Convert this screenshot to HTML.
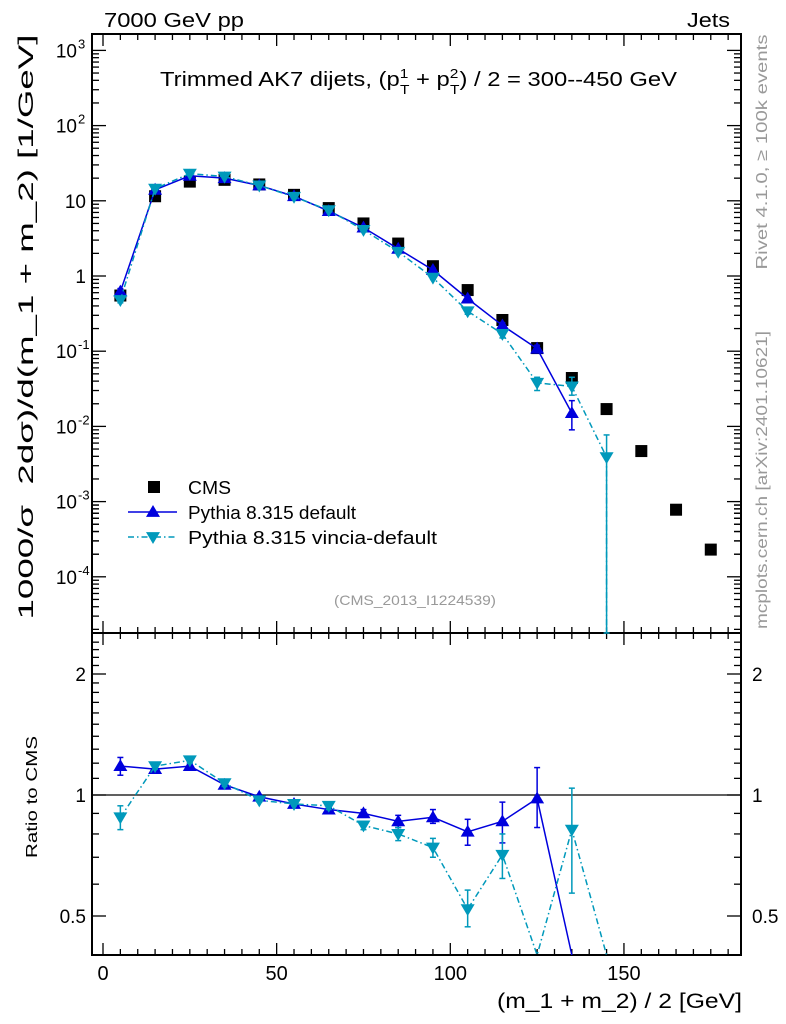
<!DOCTYPE html>
<html><head><meta charset="utf-8"><style>
body{margin:0;background:#fff}
svg{display:block;font-family:"Liberation Sans",sans-serif}
</style></head><body>
<svg id="c" width="786" height="1024" viewBox="0 0 786 1024">
<g id="g"></g>
</svg>
<script>
const categories=[5,15,25,35,45,55,65,75,85,95,105,115,125,135,145,155,165,175];
const cmsValues=[0.55,11.5,18,19,16.5,12,8,5,2.7,1.35,0.65,0.26,0.11,0.044,0.017,0.0047,0.00078,0.00023];
const defValues=[0.62,14,21.5,20,16,11.5,7.3,4.4,2.3,1.2,0.5,0.22,0.108,0.015];
const defErrLo=[0.56,13.5,21,19.5,15.6,11.2,7.1,4.25,2.2,1.13,0.46,0.2,0.095,0.009];
const defErrHi=[0.68,14.5,22,20.5,16.4,11.8,7.5,4.55,2.4,1.27,0.54,0.24,0.12,0.022];
const vinValues=[0.48,14.5,23,21,16,11.3,7.5,4.1,2.1,0.95,0.34,0.17,0.038,0.034,0.0039];
const vinErrLo=[0.44,14,22.5,20.5,15.6,11,7.3,3.95,2.0,0.9,0.31,0.15,0.03,0.026,0.00001];
const vinErrHi=[0.52,15,23.5,21.5,16.4,11.6,7.7,4.25,2.2,1.0,0.37,0.19,0.045,0.045,0.0077];
const defRatio=[1.18,1.16,1.18,1.06,0.99,0.95,0.92,0.90,0.86,0.88,0.81,0.86,0.98,0.34];
const defRatioLo=[1.12,1.14,1.16,1.04,0.98,0.94,0.91,0.88,0.83,0.85,0.75,0.76,0.83,0.34];
const defRatioHi=[1.24,1.18,1.2,1.08,1.0,0.96,0.93,0.92,0.89,0.92,0.87,0.96,1.17,0.34];
const vinRatio=[0.88,1.18,1.22,1.07,0.97,0.95,0.94,0.84,0.80,0.74,0.52,0.71,0.34,0.82,0.23];
const vinRatioLo=[0.82,1.16,1.2,1.05,0.96,0.94,0.92,0.82,0.77,0.70,0.47,0.62,0.34,0.57,0.23];
const vinRatioHi=[0.94,1.2,1.24,1.09,0.98,0.96,0.96,0.86,0.83,0.78,0.58,0.80,0.34,1.04,0.23];
const xTicks=[0,50,100,150];
const yTicks=[-4,-3,-2,-1,0,1,2,3];
const rTicks=[0.5,1,2];

const NS='http://www.w3.org/2000/svg';
const g=document.getElementById('g');
const L=92,R=741,T=34,MB=633,RB=955;
const X=v=>103+(v)*3.473;
const Y=v=>276-Math.log10(v)*75.2;
const YR=v=>795-Math.log2(v)*121;
const clampM=y=>Math.min(MB,Math.max(T,y));
const clampR=y=>Math.min(RB,Math.max(MB,y));
function el(t,a,p){const e=document.createElementNS(NS,t);for(const k in a)e.setAttribute(k,a[k]);(p||g).appendChild(e);return e;}
function txt(x,y,s,a,p){const e=el('text',Object.assign({x:x,y:y},a||{}),p);e.textContent=s;if(e.getAttribute('textLength'))e.setAttribute('lengthAdjust','spacingAndGlyphs');return e;}

let f=el('rect',{x:L,y:T,width:R-L,height:MB-T,fill:'none',stroke:'#000','stroke-width':2});

f=el('rect',{x:L,y:MB,width:R-L,height:RB-MB,fill:'none',stroke:'#000','stroke-width':2});


for(let v=0;v<=180;v+=5){const x=X(v);const maj=v%50===0;const l=maj?12:6;
 [[T,1],[MB,-1],[MB,1],[RB,-1]].forEach(([y0,d])=>el('line',{x1:x,x2:x,y1:y0,y2:y0+d*l,stroke:'#000','stroke-width':1.3}));}
xTicks.forEach(v=>{const t=txt(X(v),980,String(v),{'font-size':20,'text-anchor':'middle'});
 });
yTicks.forEach(p=>{for(let m=1;m<10;m++){const y=Y(m*Math.pow(10,p));if(y<T||y>MB)continue;const l=m===1?14:7;
 el('line',{x1:L,x2:L+l,y1:y,y2:y,stroke:'#000','stroke-width':1.3});el('line',{x1:R,x2:R-l,y1:y,y2:y,stroke:'#000','stroke-width':1.3});}
 const y=Y(Math.pow(10,p));let t;
 if(p===0){t=txt(86,y+7,'1',{'font-size':19,'text-anchor':'end'});}
 else if(p===1){t=txt(86,y+7,'10',{'font-size':19,'text-anchor':'end'});}
 else{t=txt(77,y+7,'10',{'font-size':19,'text-anchor':'end'});txt(78,y-2,String(p),{'font-size':13});}
 });
for(let p=-5;p<=-4;p++){for(let m=2;m<10;m++){const y=Y(m*Math.pow(10,p));if(y<T||y>MB)continue;
 el('line',{x1:L,x2:L+7,y1:y,y2:y,stroke:'#000','stroke-width':1.3});el('line',{x1:R,x2:R-7,y1:y,y2:y,stroke:'#000','stroke-width':1.3});}}
for(let v=0.4;v<=2.5;v+=0.1){const y=YR(v);if(y<MB||y>RB)continue;const maj=[0.5,1,2].some(q=>Math.abs(q-v)<1e-6);const l=maj?14:7;
 el('line',{x1:L,x2:L+l,y1:y,y2:y,stroke:'#000','stroke-width':1.3});el('line',{x1:R,x2:R-l,y1:y,y2:y,stroke:'#000','stroke-width':1.3});}
rTicks.forEach(v=>{const y=YR(v);
 let t=txt(86,y+7,String(v),{'font-size':19,'text-anchor':'end'});
 t=txt(752,y+7,String(v),{'font-size':19});});
el('line',{x1:L,x2:R,y1:YR(1),y2:YR(1),stroke:'#000','stroke-width':1.3});

function tri(x,y,c,up,p){const s=7;const pts=up?`${x},${y-s} ${x-s},${y+s*0.7} ${x+s},${y+s*0.7}`:`${x},${y+s} ${x-s},${y-s*0.7} ${x+s},${y-s*0.7}`;
 return el('polygon',{points:pts,fill:c},p);}
function series(vals,lo,hi,Yf,clamp,c,dash,up,name){
 const pts=vals.map((v,i)=>`${X(categories[i])},${clamp(Yf(v))}`).join(' ');
 const pl=el('polyline',{points:pts,fill:'none',stroke:c,'stroke-width':1.5,'stroke-dasharray':dash||'none'});
 
 vals.forEach((v,i)=>{const x=X(categories[i]);const y=Yf(v);
  const y1=clamp(Yf(lo[i])),y2=clamp(Yf(hi[i]));
  if(Math.abs(y1-y2)>2){el('line',{x1:x,x2:x,y1:y1,y2:y2,stroke:c,'stroke-width':1.5});
   el('line',{x1:x-3,x2:x+3,y1:y1,y2:y1,stroke:c,'stroke-width':1.5});el('line',{x1:x-3,x2:x+3,y1:y2,y2:y2,stroke:c,'stroke-width':1.5});}
  if(Math.abs(y-clamp(y))<0.1){const m=tri(x,y,c,up);}
 });}
cmsValues.forEach((v,i)=>{const m=el('rect',{x:X(categories[i])-6,y:Y(v)-6,width:12,height:12,fill:'#000'});
 });
series(defValues,defErrLo,defErrHi,Y,clampM,'#0000dd',null,true,'pythia-default');
series(vinValues,vinErrLo,vinErrHi,Y,clampM,'#0099bb','6,3,1.5,3',false,'pythia-vincia');
el('line',{x1:X(145),x2:X(145),y1:Y(0.0039),y2:MB,stroke:'#0099bb','stroke-width':1.5,'stroke-dasharray':'6,3,1.5,3'});
series(defRatio,defRatioLo,defRatioHi,YR,clampR,'#0000dd',null,true,'ratio-default');
series(vinRatio,vinRatioLo,vinRatioHi,YR,clampR,'#0099bb','6,3,1.5,3',false,'ratio-vincia');

let lg=el('g',{});
el('rect',{x:148,y:481,width:12,height:12,fill:'#000'},lg);
txt(188,494,'CMS',{'font-size':18,textLength:43},lg);
el('line',{x1:128,x2:177,y1:512,y2:512,stroke:'#0000dd','stroke-width':1.5},lg);
tri(153,512,'#0000dd',true,lg);
txt(188,519,'Pythia 8.315 default',{'font-size':18,textLength:168},lg);
el('line',{x1:128,x2:177,y1:537,y2:537,stroke:'#0099bb','stroke-width':1.5,'stroke-dasharray':'6,3,1.5,3'},lg);
tri(153,537,'#0099bb',false,lg);
txt(188,544,'Pythia 8.315 vincia-default',{'font-size':18,textLength:249},lg);

let t=txt(104,27,'7000 GeV pp',{'font-size':20,textLength:140});
t=txt(730,27,'Jets',{'font-size':20,'text-anchor':'end',textLength:43});
let tg=el('g',{transform:'translate(160,86) scale(1.19,1)'});
t=txt(0,0,'',{'font-size':20},tg);
t.innerHTML='Trimmed AK7 dijets, (p<tspan font-size="13" dy="-8">1</tspan><tspan font-size="13" dx="-7" dy="16">T</tspan><tspan dy="-8"> + p</tspan><tspan font-size="13" dy="-8">2</tspan><tspan font-size="13" dx="-7" dy="16">T</tspan><tspan dy="-8">) / 2 = 300--450 GeV</tspan>';
t=txt(415,605,'(CMS_2013_I1224539)',{'font-size':14,fill:'#999','text-anchor':'middle',textLength:162});
t=txt(742,1008,'(m_1 + m_2) / 2 [GeV]',{'font-size':21,'text-anchor':'end',textLength:245});
t=txt(0,0,'',{'font-size':21,transform:'translate(33,327) rotate(-90)','text-anchor':'middle',textLength:585,lengthAdjust:'spacingAndGlyphs'});
t.innerHTML='1000/σ &#160;2dσ)/d(m_1 + m_2) [1/GeV]';
t=txt(0,0,'Ratio to CMS',{'font-size':16,transform:'translate(37,797) rotate(-90)','text-anchor':'middle',textLength:122});
t=txt(0,0,'Rivet 4.1.0, ≥ 100k events',{'font-size':16,fill:'#999',transform:'translate(767,152) rotate(-90)','text-anchor':'middle',textLength:235});
t=txt(0,0,'mcplots.cern.ch [arXiv:2401.10621]',{'font-size':16,fill:'#999',transform:'translate(767,480) rotate(-90)','text-anchor':'middle',textLength:298});
</script>
</body></html>
